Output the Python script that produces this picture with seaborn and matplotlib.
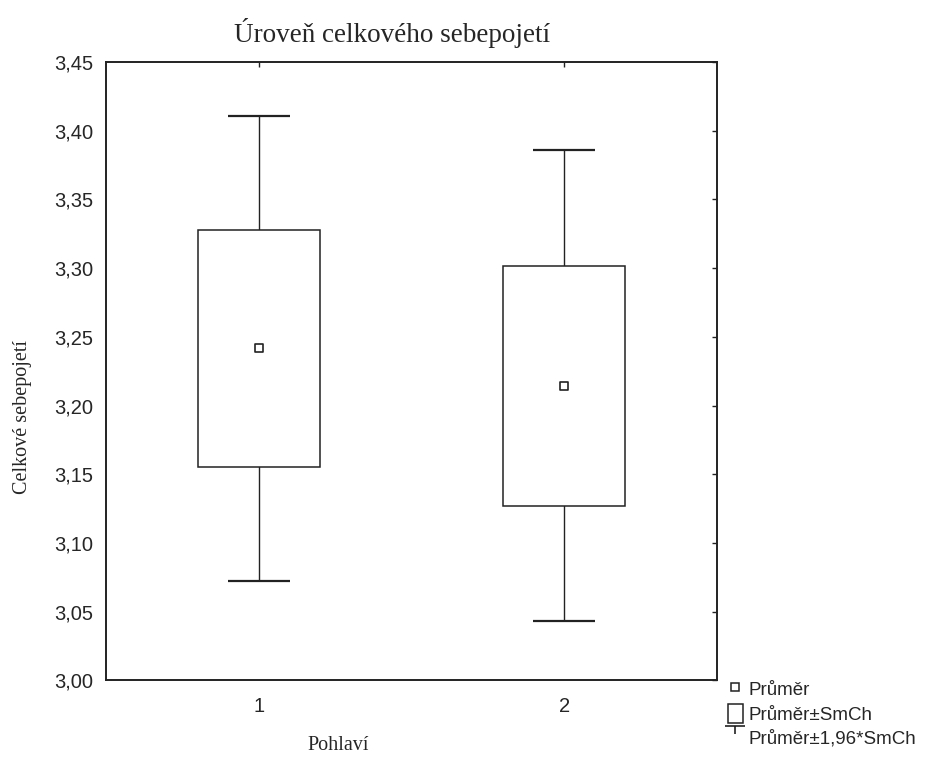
import numpy as np
import seaborn as sns
import matplotlib
matplotlib.use("Agg")
import matplotlib.pyplot as plt
from matplotlib.lines import Line2D
from matplotlib.patches import Patch
from matplotlib.path import Path
from matplotlib.ticker import FuncFormatter, MultipleLocator

# values
groups = [1, 2]
means = [3.2416, 3.2144]
se = [0.0862, 0.0874]

title = "Úroveň celkového sebepojetí"
ylabel = "Celkové sebepojetí"
xlabel = "Pohlaví"
legend_labels = ["Průměr", "Průměr±SmCh", "Průměr±1,96*SmCh"]

sns.set_style("white")
plt.rcParams["font.family"] = ["Liberation Sans", "DejaVu Sans"]

means = np.array(means)
se = np.array(se)

fig = plt.figure(figsize=(9.28, 7.62), dpi=100)
ax = fig.add_axes([0.1142, 0.107, 0.6584, 0.8116])

# whiskers: mean +/- 1.96*SE
ax.errorbar(groups, means, yerr=1.96 * se, fmt="none", ecolor="#222222",
            elinewidth=1.0, capsize=22, capthick=1.6, zorder=1)
# boxes: mean +/- SE
ax.bar(groups, 2 * se, bottom=means - se, width=0.4, color="white",
       edgecolor="#222222", linewidth=1.1, zorder=2)
# mean markers
sns.scatterplot(x=groups, y=means, marker="s", s=36, color="white",
                edgecolor="#222222", linewidth=1.2, zorder=3, ax=ax)

ax.set_xlim(0.5, 2.5)
ax.set_ylim(3.00, 3.45)
ax.set_xticks(groups)
ax.yaxis.set_major_locator(MultipleLocator(0.05))
ax.yaxis.set_major_formatter(FuncFormatter(lambda v, p: f"{v:.2f}".replace(".", ",")))
ax.tick_params(direction="in", length=3.5, width=1.0, color="#222222",
               top=True, right=True, labelsize=14.5)
ax.tick_params(axis="y", pad=9)
ax.tick_params(axis="x", pad=12)
for s in ax.spines.values():
    s.set_color("#222222")
    s.set_linewidth(1.4)
ax.set_xlabel("")
ax.set_ylabel("")

fig.text(0.4224, 0.957, title, ha="center", va="center",
         family="Liberation Serif", fontsize=19.5)
fig.text(0.024, 0.4528, ylabel, ha="center", va="center", rotation=90,
         family="Liberation Serif", fontsize=14.5)
fig.text(0.364, 0.022, xlabel, ha="center", va="center",
         family="Liberation Serif", fontsize=14.5)

# legend
cap = Path([(-1, 1), (1, 1), (0, 1), (0, 0.2)],
           [Path.MOVETO, Path.LINETO, Path.MOVETO, Path.LINETO])
handles = [
    Line2D([], [], marker="s", linestyle="none", markersize=5.5,
           markerfacecolor="white", markeredgecolor="#222222", markeredgewidth=1.1),
    Patch(facecolor="white", edgecolor="#222222", linewidth=1.1),
    Line2D([], [], marker=cap, linestyle="none", markersize=14,
           color="#222222", markeredgewidth=1.2),
]
fig.legend(handles, legend_labels, loc="upper left",
           bbox_to_anchor=(0.772, 0.123), frameon=False, fontsize=13.5,
           handlelength=0.8, handleheight=1.2, handletextpad=0.3,
           labelspacing=0.22, borderpad=0.1)

fig.savefig("out.png", dpi=100)
